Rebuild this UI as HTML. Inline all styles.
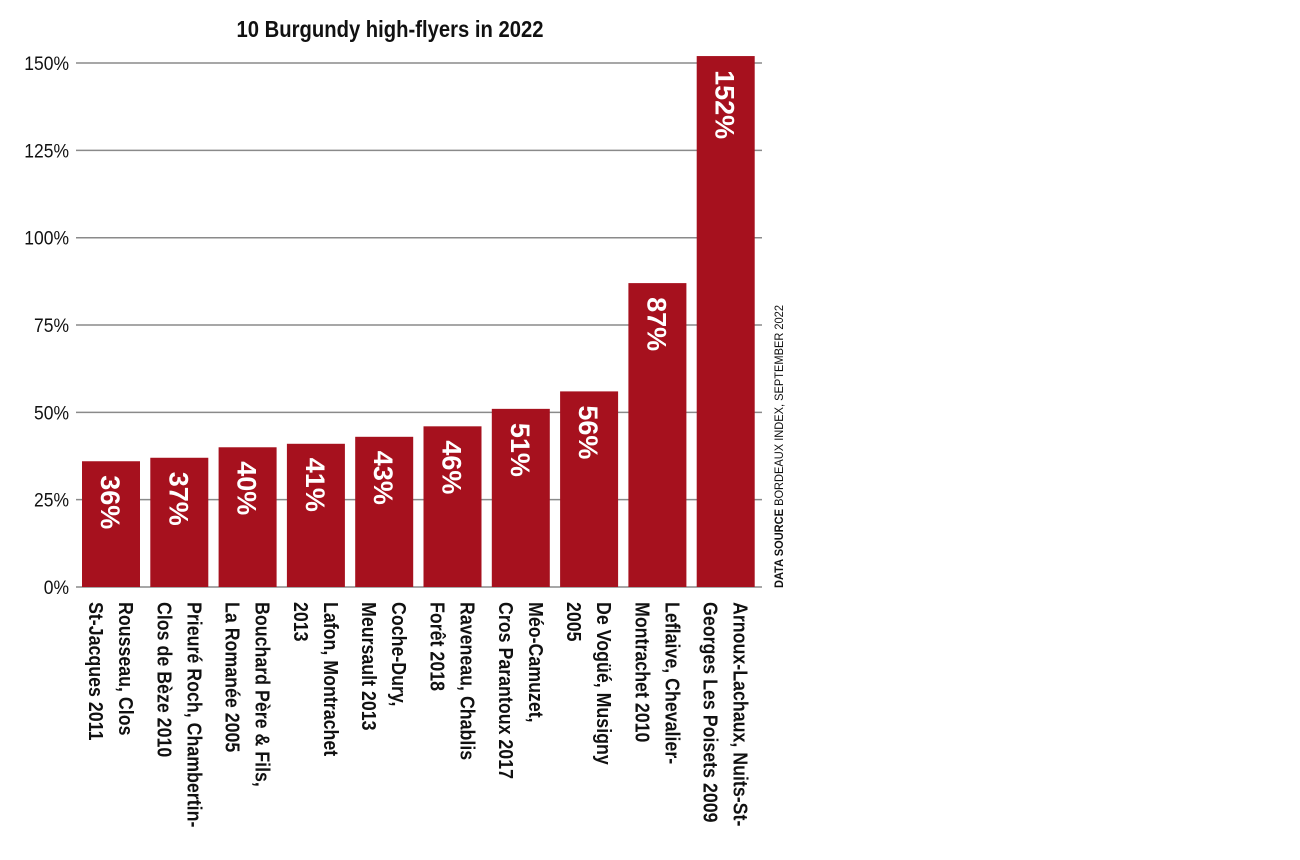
<!DOCTYPE html>
<html><head><meta charset="utf-8"><style>
html,body{margin:0;padding:0;background:#fff;width:1300px;height:860px;overflow:hidden}
svg text{font-family:"Liberation Sans",sans-serif}
</style></head><body>
<svg id="chart" width="1300" height="860" xmlns="http://www.w3.org/2000/svg">
<text transform="translate(390,37) scale(0.88,1)" text-anchor="middle" font-size="23" font-weight="bold" fill="#111">10 Burgundy high-flyers in 2022</text>
<g id="grid"></g><g id="bars"></g><g id="labels"></g>
<text transform="translate(783,588) rotate(-90)" font-size="11.5" fill="#111" textLength="283" lengthAdjust="spacingAndGlyphs"><tspan font-weight="bold">DATA SOURCE</tspan> BORDEAUX INDEX, SEPTEMBER 2022</text>
</svg>
<script>
const categories = [
 ["Rousseau, Clos","St-Jacques 2011"],
 ["Prieuré Roch, Chambertin-","Clos de Bèze 2010"],
 ["Bouchard Père & Fils,","La Romanée 2005"],
 ["Lafon, Montrachet","2013"],
 ["Coche-Dury,","Meursault 2013"],
 ["Raveneau, Chablis","Forêt 2018"],
 ["Méo-Camuzet,","Cros Parantoux 2017"],
 ["De Vogüé, Musigny","2005"],
 ["Leflaive, Chevalier-","Montrachet 2010"],
 ["Arnoux-Lachaux, Nuits-St-","Georges Les Poisets 2009"]
];
const values = [36,37,40,41,43,46,51,56,87,152];
const tickValues = [0,25,50,75,100,125,150];
const tickLabels = ["0%","25%","50%","75%","100%","125%","150%"];

const NS="http://www.w3.org/2000/svg";
const y0=587, pxPer=3.493;
function yScale(v){return y0 - v*pxPer;}
const x0=82, step=68.3, bw=58;
function xScale(i){return x0 + i*step;}
function mk(tag,attrs,parent){const e=document.createElementNS(NS,tag);for(const k in attrs)e.setAttribute(k,attrs[k]);parent.appendChild(e);return e;}
const grid=document.getElementById('grid'), bars=document.getElementById('bars'), labels=document.getElementById('labels');
tickValues.forEach((t,i)=>{
  const y=yScale(t);
  const l=mk('line',{x1:76,x2:762,y1:y,y2:y,stroke:'#8a8a8a','stroke-width':1.5},grid);
  
  
  const tx=mk('text',{transform:`translate(69,${y+7}) scale(0.92,1)`,'text-anchor':'end','font-size':19,fill:'#111'},grid);
  
  
  tx.textContent=tickLabels[i];
});
values.forEach((v,i)=>{
  const x=xScale(i), y=yScale(v);
  const r=mk('rect',{x:x,y:y,width:bw,height:y0-y,fill:'#a6111e'},bars);
  
  
  const t=mk('text',{transform:`translate(${x+bw/2-10},${y+14}) rotate(90)`,'font-size':27,'font-weight':'bold',fill:'#fff'},bars);
  
  
  t.textContent=v+'%';
  categories[i].forEach((line,j)=>{
    const ax=x+37-j*30;
    const c=mk('text',{transform:`translate(${ax},602) rotate(90) scale(0.89,1)`,'font-size':20,'font-weight':'bold',fill:'#111'},labels);
    
    
    c.textContent=line;
  });
});
</script>
</body></html>
